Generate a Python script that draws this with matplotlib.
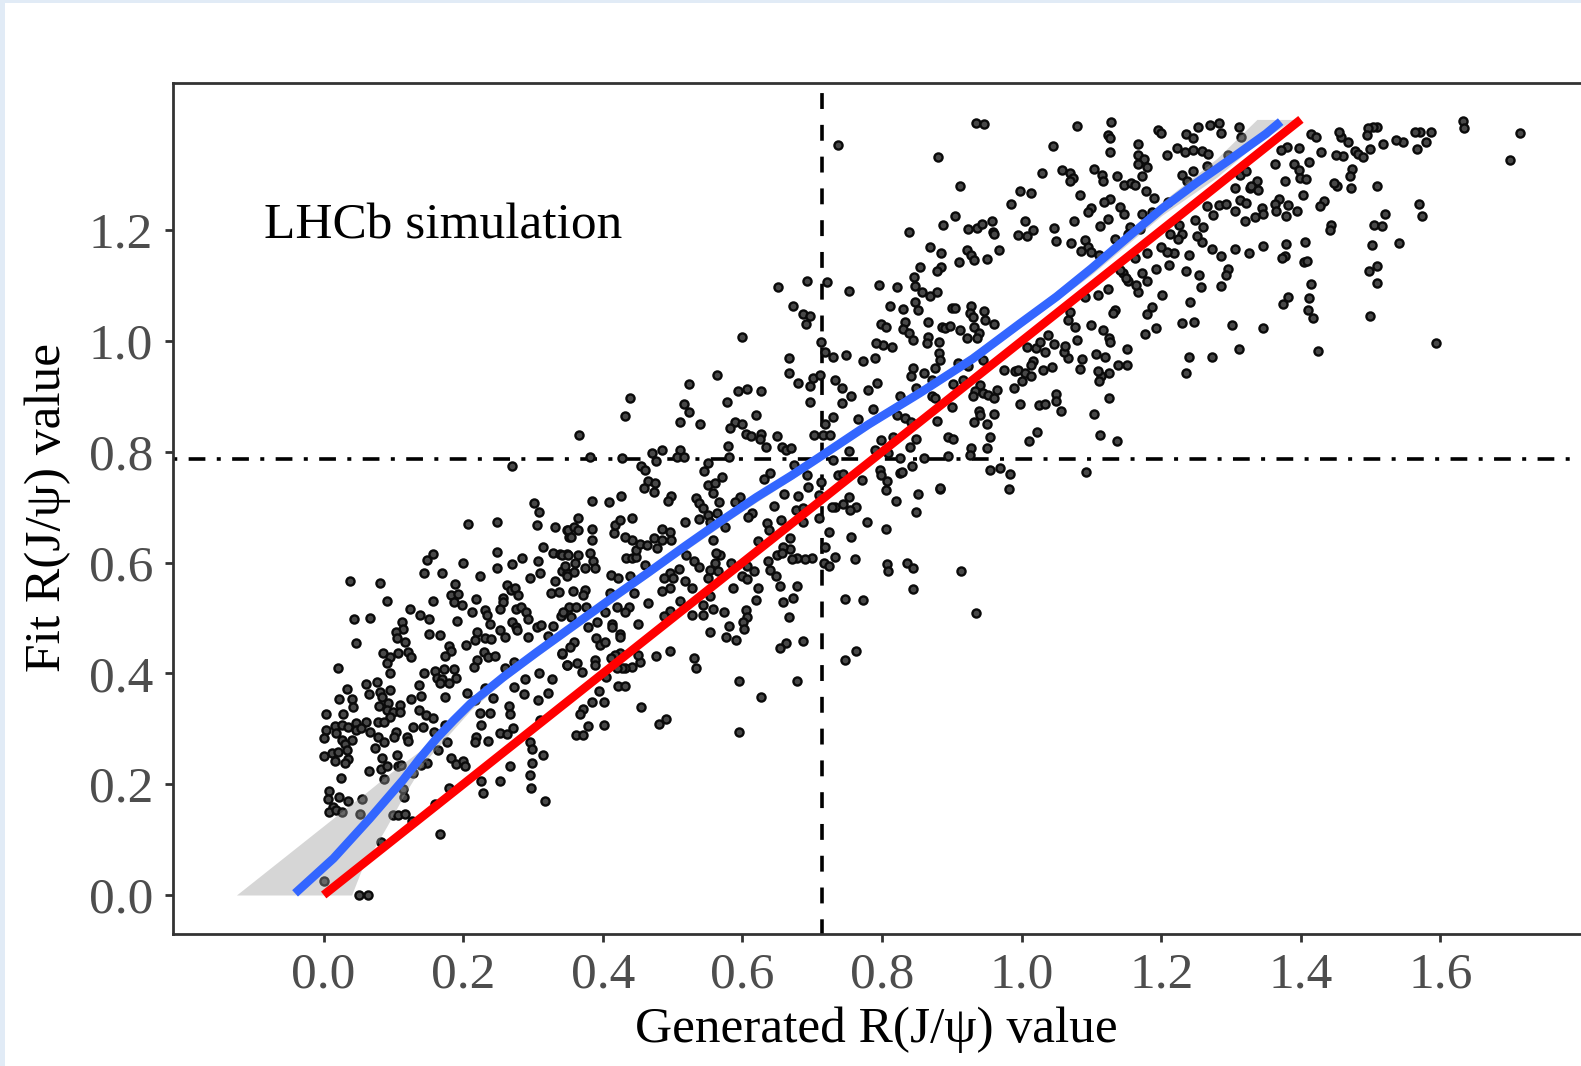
import matplotlib
matplotlib.use("Agg")
import matplotlib.pyplot as plt
from matplotlib.patches import Rectangle

# (generated, fit) values, by region of the plot
points_low = [
(.038,.567),(.081,.563),(.044,.498),(.067,.500),(.090,.530),(.047,.454),(.021,.409),(.124,.516),(.138,.505),(.151,.498),
(.148,.605),(.157,.616),(.143,.582),(.169,.581),(.199,.600),(.156,.531),(.191,.494),(.188,.561),(.183,.542),(.193,.543),
(.187,.529),(.198,.523),(.218,.535),(.224,.575),(.248,.620),(.248,.591),(.270,.597),(.284,.609),(.307,.603),(.296,.573),
(.310,.581),(.314,.629),(.329,.617),(.339,.616),(.348,.616),(.331,.566),(.325,.546),(.337,.547),(.342,.584),(.348,.581),
(.262,.560),(.268,.551),(.274,.554),(.279,.542),(.257,.537),(.257,.528),(.253,.517),(.231,.514),(.234,.505),(.213,.511),
(.238,.489),(.275,.516),(.282,.520),(.290,.511),(.293,.498),(.270,.492),(.275,.484),(.277,.478),(.253,.478),(.260,.466),
(.219,.475),(.217,.461),(.231,.463),(.239,.462),(.204,.452),(.293,.465),(.305,.484),(.311,.487),(.329,.485),(.322,.468),
(.340,.504),(.349,.511),(.112,.493),(.114,.480),(.104,.475),(.105,.464),(.117,.457),(.151,.471),(.166,.469),(.180,.450),
(.182,.440),(.174,.431),(.121,.439),(.125,.429),(.085,.437),(.106,.437),(.095,.429),(.091,.419),(.095,.401),(.144,.401),
(.159,.404),(.172,.408),(.186,.408),(.190,.391),(.162,.391),(.169,.389),(.179,.382),(.166,.382),(.220,.425),(.229,.438),
(.235,.430),(.246,.432),(.215,.412),(.272,.421),(.260,.409),(.136,.379),(.077,.384),(.061,.380),(.034,.371),(.022,.354),
(.040,.353),(.065,.362),(.081,.367),(.095,.370),(.083,.357),(.092,.346),(.079,.341),(.109,.343),(.091,.334),(.100,.331),
(.109,.331),(.125,.354),(.140,.360),(.174,.357),(.205,.364),(.136,.334),(.147,.325),(.157,.319),(.004,.327),(.028,.327),
(.042,.340),(.095,.321),(.078,.313),(.086,.313),(.004,.297),(.016,.305),(.026,.307),(.035,.303),(.047,.311),(.061,.312),
(.046,.298),(.054,.301),(.066,.295),(.078,.286),(.086,.277),(.000,.283),(.017,.292),(.026,.280),(.040,.280),(.031,.273),
(.073,.265),(.104,.295),(.101,.285),(.119,.286),(.121,.278),(.128,.303),(.142,.303),(.158,.295),(.174,.306),(.000,.251),
(.012,.256),(.021,.258),(.016,.242),(.033,.262),(.035,.245),(.031,.238),(.083,.247),(.105,.252),(.082,.227),(.091,.232),
(.065,.224),(.025,.212),(.106,.232),(.111,.235),(.148,.239),(.140,.235),(.164,.262),(.176,.276),(.128,.220),(.087,.210),
(.113,.191),(.115,.176),(.007,.188),(.006,.173),(.022,.176),(.035,.170),(.055,.174),(.014,.159),(.008,.149),(.017,.153),
(.026,.149),(.052,.146),(.100,.144),(.107,.144),(.116,.147),(.082,.096),(.001,.026),(.050,0),(.063,0),(.127,.134),
(.159,.165),(.180,.194),(.167,.110),(.183,.247),(.189,.236),(.200,.241),(.203,.232),(.226,.206),(.228,.185),(.253,.205),
(.218,.286),(.217,.276),(.236,.278),(.226,.307),(.224,.328),(.238,.328),(.217,.352),(.231,.373),(.243,.355),(.252,.293),
(.263,.291),(.271,.301),(.265,.342),(.267,.326),(.272,.376),(.287,.363),(.288,.389),(.308,.401),(.327,.390),(.321,.364),
(.307,.352),(.342,.435),(.348,.415),(.267,.232),(.296,.277),(.299,.263),(.314,.253),(.310,.316),(.298,.238),(.295,.217),
(.297,.194),(.317,.170),(.270,.774),(.302,.707),(.308,.692),(.207,.669),(.249,.673),(.306,.668),(.332,.665),(.349,.659),
(.352,.647),
]

points_mid = [
(.366,.831),(.439,.897),(.431,.865),(.524,.922),(.564,.938),(.516,.886),(.524,.871),(.511,.853),(.539,.850),(.578,.889),
(.594,.910),(.607,.913),(.626,.910),(.620,.867),(.589,.853),(.582,.843),(.599,.850),(.605,.832),(.612,.829),(.627,.833),
(.625,.824),(.650,.829),(.633,.808),(.656,.809),(.663,.803),(.669,.806),(.579,.810),(.580,.791),(.484,.804),(.471,.797),
(.476,.784),(.511,.804),(.506,.791),(.516,.790),(.381,.791),(.428,.788),(.550,.780),(.545,.765),(.455,.775),(.461,.768),
(.465,.747),(.475,.744),(.459,.735),(.473,.727),(.551,.740),(.561,.743),(.571,.754),(.558,.726),(.498,.721),(.493,.711),
(.426,.721),(.384,.711),(.409,.709),(.534,.716),(.538,.707),(.544,.698),(.566,.709),(.537,.679),(.551,.686),(.563,.689),
(.553,.674),(.518,.674),(.575,.664),(.558,.641),(.596,.718),(.589,.709),(.613,.689),(.608,.683),(.640,.761),(.631,.751),
(.659,.724),(.645,.703),(.679,.720),(.694,.736),(.693,.758),(.674,.776),(.712,.746),(.709,.722),(.677,.695),(.687,.698),
(.686,.673),(.709,.680),(.655,.677),(.635,.671),(.638,.658),(.622,.639),(.668,.645),(.724,.656),(.755,.646),(.778,.674),
(.806,.660),(.848,.691),(.851,.723),(.883,.732),(.820,.711),(.806,.731),(.807,.748),(.826,.761),(.797,.767),(.799,.759),
(.771,.749),(.752,.719),(.732,.701),(.744,.706),(.763,.701),(.754,.695),(.737,.759),(.744,.760),(.728,.701),(.718,.629),
(.699,.609),(.690,.607),(.678,.608),(.671,.606),(.668,.624),(.658,.629),(.649,.614),(.656,.617),(.637,.602),(.639,.587),
(.648,.576),(.654,.557),(.678,.558),(.673,.537),(.658,.528),(.622,.555),(.620,.533),(.587,.555),(.599,.575),(.606,.570),
(.617,.585),(.584,.599),(.606,.593),(.568,.614),(.562,.618),(.561,.600),(.553,.587),(.565,.584),(.551,.573),(.519,.613),
(.530,.603),(.537,.592),(.496,.581),(.509,.589),(.487,.573),(.501,.572),(.518,.566),(.528,.555),(.496,.554),(.484,.548),
(.553,.540),(.544,.523),(.511,.530),(.558,.517),(.527,.505),(.544,.505),(.496,.513),(.487,.503),(.573,.510),(.605,.514),
(.607,.501),(.601,.492),(.602,.481),(.581,.485),(.553,.474),(.577,.466),(.590,.460),(.666,.502),(.747,.535),(.773,.532),
(.687,.459),(.663,.454),(.654,.446),(.762,.441),(.747,.425),(.530,.428),(.534,.409),(.496,.440),(.476,.432),(.595,.386),
(.678,.387),(.627,.358),(.595,.295),(.455,.340),(.490,.318),(.481,.308),(.401,.307),(.401,.349),(.384,.348),(.372,.335),
(.367,.327),(.395,.369),(.422,.378),(.432,.378),(.378,.305),(.362,.288),(.372,.288),(.441,.412),(.432,.409),(.453,.421),
(.450,.433),(.424,.436),(.417,.433),(.412,.427),(.388,.425),(.388,.415),(.348,.416),(.363,.418),(.370,.403),(.427,.409),
(.405,.394),(.420,.409),(.342,.436),(.358,.457),(.353,.448),(.390,.463),(.396,.451),(.403,.457),(.413,.490),(.413,.484),
(.424,.472),(.424,.466),(.379,.483),(.391,.493),(.450,.490),(.420,.520),(.437,.519),(.432,.510),(.403,.510),(.464,.527),
(.444,.546),(.410,.546),(.374,.551),(.357,.548),(.372,.542),(.352,.520),(.362,.520),(.376,.519),(.343,.511),(.355,.502),
(.411,.578),(.422,.572),(.439,.575),(.460,.595),(.358,.583),(.346,.593),(.348,.575),(.341,.614),(.350,.614),(.365,.614),
(.381,.617),(.360,.599),(.374,.590),(.386,.602),(.389,.590),(.433,.608),(.441,.608),(.448,.611),(.447,.622),(.441,.641),
(.432,.646),(.453,.633),(.463,.632),(.477,.626),(.473,.644),(.484,.660),(.496,.656),(.484,.641),(.497,.641),(.416,.654),
(.417,.668),(.424,.676),(.442,.680),(.385,.660),(.385,.641),(.350,.659),(.358,.665),(.365,.680),(.365,.659),(.354,.647),
(.913,.584),(.935,.509),(.845,.552),(.835,.600),(.844,.590),(.807,.597),(.809,.585),(.761,.606),(.733,.610),(.717,.600),
(.724,.593),(.667,.969),(.666,.943),(.680,.924),(.697,.919),(.701,.933),(.711,.939),(.697,.889),(.732,.930),(.743,.916),
(.756,.901),(.743,.888),(.718,.981),(.730,.972),(.749,.974),(.772,.964),(.790,.970),(.802,.993),(.814,.990),(.780,.911),
(.792,.924),(.787,.877),(.766,.859),(.730,.862),(.718,.851),(.716,.830),(.725,.830),(.702,.830),(.826,.901),(.821,.866),
(.816,.827),(.799,.822),(.790,.803),(.809,.797),(.826,.789),(.753,.801),(.729,.785),(.737,1.353),(.651,1.098),(.693,1.108),
(.721,1.107),(.753,1.091),(.796,1.101),(.822,1.097),(.673,1.063),(.686,1.049),(.697,1.045),(.691,1.031),(.600,1.008),(.712,.999),
(.811,1.063),(.798,1.030),(.805,1.025),(.791,.997),
]

points_high = [
(.935,1.394),(.946,1.391),(.880,1.333),(1.079,1.388),(1.128,1.396),(1.045,1.352),(1.123,1.372),(1.126,1.366),(1.126,1.341),(1.167,1.356),
(1.166,1.336),(1.175,1.328),(1.167,1.320),(1.179,1.314),(1.196,1.380),(1.200,1.376),(1.235,1.374),(1.246,1.366),(1.252,1.387),(1.270,1.390),
(1.283,1.394),(1.285,1.376),(1.312,1.386),(1.314,1.369),(1.208,1.336),(1.222,1.348),(1.234,1.342),(1.245,1.345),(1.258,1.343),(1.267,1.338),
(1.266,1.315),(1.296,1.336),(1.246,1.306),(1.229,1.300),(1.237,1.288),(1.172,1.297),(1.137,1.297),(1.147,1.282),(1.156,1.285),(1.162,1.282),
(1.103,1.310),(1.115,1.300),(1.117,1.289),(1.058,1.309),(1.069,1.303),(1.074,1.294),(1.069,1.288),(1.029,1.303),(.998,1.270),(1.013,1.267),
(.984,1.247),(.912,1.280),(1.083,1.264),(1.178,1.270),(1.189,1.258),(1.210,1.250),(1.126,1.256),(1.118,1.250),(1.141,1.241),(1.147,1.229),
(1.099,1.240),(1.095,1.232),(1.172,1.230),(1.186,1.233),(1.075,1.217),(1.124,1.221),(1.112,1.208),(1.047,1.204),(.904,1.226),(.887,1.209),
(.838,1.196),(.923,1.202),(.936,1.204),(.943,1.212),(.957,1.217),(.959,1.197),(.961,1.193),(1.005,1.217),(1.016,1.200),(1.007,1.190),
(.995,1.191),(1.049,1.181),(1.070,1.176),(1.091,1.182),(1.095,1.170),(1.134,1.185),(1.155,1.206),(1.169,1.203),(1.152,1.193),(1.085,1.163),
(1.100,1.160),(1.111,1.156),(.869,1.169),(.885,1.158),(.921,1.165),(.927,1.155),(.932,1.146),(.951,1.148),(.967,1.165),(.910,1.142),
(.855,1.134),(.885,1.133),(.879,1.126),(.846,1.116),(.847,1.100),(.857,1.088),(.869,1.082),(.879,1.089),(.847,1.070),(.852,1.056),
(.830,1.058),(.900,1.059),(.904,1.059),(.927,1.063),(.926,1.050),(.930,1.043),(.946,1.055),(.947,1.038),(.961,1.030),(.833,1.035),
(.830,1.021),(.839,1.014),(.844,1.001),(.866,1.034),(.866,1.008),(.865,.996),(.881,.998),(.886,1.026),(.890,1.023),(.898,1.027),
(.911,1.020),(.932,1.025),(.939,1.014),(.936,1.005),(.922,1.006),(.881,.978),(.883,.965),(.876,.951),(.844,.951),(.841,.937),
(.860,.942),(.871,.930),(.909,.960),(.923,.954),(.848,.915),(.871,.900),(.876,.897),(.901,.922),(.916,.930),(.945,.966),
(.974,.948),(.990,.946),(.995,.948),(1.005,.942),(1.013,.936),(1.000,.927),(.989,.915),(.964,.912),(.940,.921),(.933,.909),
(.930,.900),(.945,.906),(.952,.903),(.960,.897),(.900,.880),(.939,.874),(.940,.867),(.960,.868),(.932,.853),(.950,.851),
(.878,.856),(.833,.861),(.841,.853),(.997,.886),(1.025,.885),(1.033,.886),(1.049,.904),(1.049,.891),(1.057,.874),(1.103,.868),
(1.125,.897),(1.112,.830),(1.137,.820),(1.022,.835),(1.011,.820),(.954,.826),(.950,.807),(.927,.807),(.926,.794),(.894,.827),
(.901,.823),(.848,.823),(.840,.808),(.894,.793),(.860,.788),(.843,.775),(.954,.767),(.969,.771),(.983,.760),(.982,.733),
(1.092,.764),(.883,.735),(.828,.764),(1.031,.948),(1.044,.953),(1.016,.963),(1.014,.957),(1.083,.950),(1.087,.967),(1.067,.970),
(1.060,.981),(1.062,.991),(1.046,.994),(1.033,.981),(1.021,.987),(1.026,.999),(1.038,1.011),(1.007,.990),(1.079,1.002),(1.107,.976),
(1.119,.972),(1.076,1.025),(1.067,1.038),(1.069,1.053),(1.100,1.028),(1.117,1.019),(1.125,1.005),(1.126,.999),(1.151,.985),(1.138,.957),
(1.151,.957),(1.125,.943),(1.114,.936),(1.110,.945),(1.111,.928),(1.176,1.012),(1.193,1.023),(1.229,1.032),(1.247,1.034),(1.180,1.049),
(1.186,1.061),(1.134,1.056),(1.131,1.050),(1.201,1.083),(1.241,1.070),(1.257,1.098),(1.254,1.119),(1.285,1.100),(1.296,1.130),(1.293,1.119),
(1.235,1.126),(1.192,1.130),(1.173,1.123),(1.179,1.109),(1.167,1.089),(1.164,1.101),(1.153,1.109),(1.124,1.093),(1.110,1.083),(1.145,1.122),
(1.150,1.113),(1.141,1.128),(1.091,1.079),(1.301,1.029),(1.312,.985),(1.273,.972),(1.239,.972),(1.235,.942),(1.325,1.158),(1.305,1.166),
(1.285,1.154),(1.272,1.166),(1.258,1.178),(1.251,1.190),(1.240,1.155),(1.218,1.158),(1.208,1.160),(1.200,1.170),(1.180,1.158),(1.163,1.149),
(1.211,1.138),(1.226,1.209),(1.229,1.194),(1.212,1.194),(1.224,1.185),(1.248,1.218),(1.260,1.206),(1.274,1.227),(1.266,1.243),(1.282,1.246),
(1.293,1.247),(1.306,1.234),(1.320,1.217),(1.313,1.255),(1.322,1.249),(1.327,1.276),(1.306,1.276),(1.313,1.300),(1.322,1.306),
]

points_tail = [
(1.632,1.398),(1.633,1.384),(1.714,1.375),(1.700,1.326),(1.586,1.377),(1.571,1.377),(1.564,1.377),(1.579,1.360),(1.567,1.347),(1.546,1.359),
(1.536,1.363),(1.517,1.356),(1.499,1.347),(1.509,1.387),(1.504,1.386),(1.496,1.384),(1.494,1.372),(1.467,1.360),(1.457,1.368),(1.454,1.378),
(1.478,1.343),(1.482,1.337),(1.489,1.333),(1.460,1.334),(1.450,1.336),(1.429,1.342),(1.415,1.373),(1.421,1.369),(1.398,1.349),(1.380,1.351),
(1.371,1.345),(1.363,1.320),(1.390,1.319),(1.412,1.324),(1.397,1.308),(1.473,1.311),(1.470,1.298),(1.472,1.277),(1.509,1.280),(1.452,1.279),
(1.447,1.285),(1.399,1.294),(1.408,1.293),(1.377,1.288),(1.337,1.288),(1.329,1.279),(1.338,1.273),(1.403,1.264),(1.433,1.252),(1.427,1.244),
(1.368,1.256),(1.363,1.247),(1.381,1.246),(1.365,1.235),(1.394,1.234),(1.378,1.226),(1.344,1.240),(1.345,1.229),(1.334,1.223),(1.569,1.247),
(1.573,1.225),(1.521,1.229),(1.505,1.210),(1.516,1.208),(1.443,1.210),(1.442,1.200),(1.406,1.179),(1.379,1.175),(1.346,1.172),(1.541,1.176),
(1.502,1.173),(1.509,1.136),(1.498,1.126),(1.509,1.105),(1.404,1.143),(1.409,1.145),(1.377,1.154),(1.373,1.150),(1.414,1.103),(1.412,1.078),
(1.381,1.080),(1.375,1.067),(1.410,1.056),(1.417,1.042),(1.499,1.046),(1.346,1.024),(1.424,.982),(1.594,.996),
]

smooth_x = [-.041,.014,.066,.114,.138,.162,.186,.210,.257,.305,.360,.413,.465,.518,.568,.620,.670,.711,.780,.854,.930,.998,1.050,1.100,1.150,1.200,1.250,1.300,1.350,1.371]
smooth_y = [.003,.066,.138,.208,.247,.283,.315,.345,.393,.438,.488,.536,.582,.630,.674,.718,.757,.791,.849,.906,.968,1.032,1.080,1.131,1.185,1.238,1.285,1.329,1.374,1.396]

band_x     = [-.125,-.041,.019,.040,.054,.090,.114,.143,.176,.210,.257,.305,.400,.500,.600,.700,.800,.900,1.000,1.100,1.200,1.280,1.337,1.390]
band_lower = [0,0,0,0,.045,.123,.178,.238,.285,.333,.385,.430,.516,.606,.693,.774,.858,.936,1.026,1.120,1.226,1.296,1.357,1.400]
band_upper = [0,.084,.144,.165,.178,.215,.238,.265,.312,.357,.401,.446,.532,.622,.709,.790,.874,.952,1.042,1.140,1.250,1.330,1.400,1.400]

identity = [0, 1.4]
true_x = 0.714
true_y = 0.787

x_ticks = [0.0, 0.2, 0.4, 0.6, 0.8, 1.0, 1.2, 1.4, 1.6]
y_ticks = [0.0, 0.2, 0.4, 0.6, 0.8, 1.0, 1.2]

W, H = 1581, 1066
plt.rcParams['font.family'] = ['Liberation Serif', 'DejaVu Serif']

fig = plt.figure(figsize=(W/100, H/100), dpi=100, facecolor='#E1EBF6')
fig.patches.append(Rectangle((5/W, 0), 1, 1-3/H, transform=fig.transFigure, facecolor='white', edgecolor='none', zorder=-5))

ax = fig.add_axes([172.5/W, (H-934)/H, (W-172.5)/W, (934-83)/H])
ax.set_xlim(-0.2166, 1.8013)
ax.set_ylim(-0.0704, 1.4657)
ax.patch.set_alpha(0)

all_points = points_low + points_mid + points_high + points_tail
gen = [p[0] for p in all_points]
fit = [p[1] for p in all_points]

ax.axvline(true_x, color='black', lw=2.6, zorder=1, linestyle=(0.33, (4.4, 4.4)))
ax.axhline(true_y, color='black', lw=2.6, zorder=1, linestyle=(7.72, (4.64, 3.15, 1.11, 3.15)))
ax.scatter(gen, fit, s=34, facecolor='#484848', edgecolor='#0a0a0a', linewidth=1.7, zorder=2)
ax.fill_between(band_x, band_lower, band_upper, color='#999999', alpha=0.4, linewidth=0, zorder=3)
ax.plot(smooth_x, smooth_y, color='#3366FF', lw=6.2, solid_capstyle='butt', solid_joinstyle='round', zorder=4)
ax.plot(identity, identity, color='#FF0000', lw=6.2, solid_capstyle='butt', zorder=5)

ax.text(-0.0855, 1.208, 'LHCb simulation', fontsize=37, color='black', ha='left', va='center')

ax.spines['right'].set_visible(False)
for s in ['left', 'top', 'bottom']:
    ax.spines[s].set_color('#333333')
    ax.spines[s].set_linewidth(2.0)

ax.set_xticks(x_ticks)
ax.set_yticks(y_ticks)
ax.set_xticklabels([f'{v:.1f}' for v in x_ticks])
ax.set_yticklabels([f'{v:.1f}' for v in y_ticks])
ax.tick_params(axis='both', length=6, width=2.0, color='#333333', labelcolor='#4D4D4D', labelsize=37)
ax.tick_params(axis='y', pad=8)
ax.tick_params(axis='x', pad=7)

ax.set_xlabel('Generated R(J/ψ) value', fontsize=37, color='black', va='center')
ax.set_ylabel('Fit R(J/ψ) value', fontsize=37, color='black', va='center')
ax.xaxis.set_label_coords((876-172.5)/(W-172.5), -(1030-934)/851)
ax.yaxis.set_label_coords(-(172.5-48)/(W-172.5), (934-507)/851)

fig.savefig('out.png', dpi=100, facecolor=fig.get_facecolor())
